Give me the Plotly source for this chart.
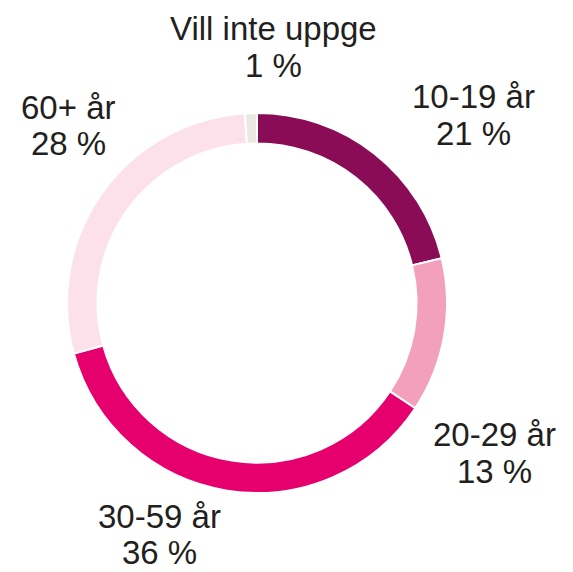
import plotly.graph_objects as go

groups = ["10-19 år", "20-29 år", "30-59 år", "60+ år", "Vill inte uppge"]
shares = [21, 13, 36, 28, 1]
colors = ["#8A0C56", "#F2A0BB", "#E5006E", "#FCE1EA", "#EAEAE3"]

W, H = 573, 572
# page body adds an 8px offset, positions below are in figure pixels
label_px = [(465, 88, 125), (486, 426, 463), (151, 508, 544), (60, 99, 136), (265, 21, 58)]

fig = go.Figure()

fig.add_trace(go.Pie(
    labels=groups,
    values=shares,
    hole=0.84,
    sort=False,
    direction="clockwise",
    rotation=0,
    marker=dict(colors=colors, line=dict(color="white", width=2)),
    textinfo="none",
    hoverinfo="label+value",
    showlegend=False,
    domain=dict(x=[59 / W, 439 / W], y=[1 - 485 / H, 1 - 105 / H])
))

for g, s, (cx, y1, y2) in zip(groups, shares, label_px):
    for txt, cy in ((g, y1), (f"{s} %", y2)):
        fig.add_annotation(
            x=cx / W, y=1 - cy / H, xref="paper", yref="paper",
            text=txt, showarrow=False,
            xanchor="center", yanchor="middle",
            font=dict(size=33, color="#231F20", family="Liberation Sans")
        )

fig.update_layout(
    width=W, height=H,
    margin=dict(l=0, r=0, t=0, b=0),
    paper_bgcolor="white",
    plot_bgcolor="white"
)

fig.write_html("out.html")
